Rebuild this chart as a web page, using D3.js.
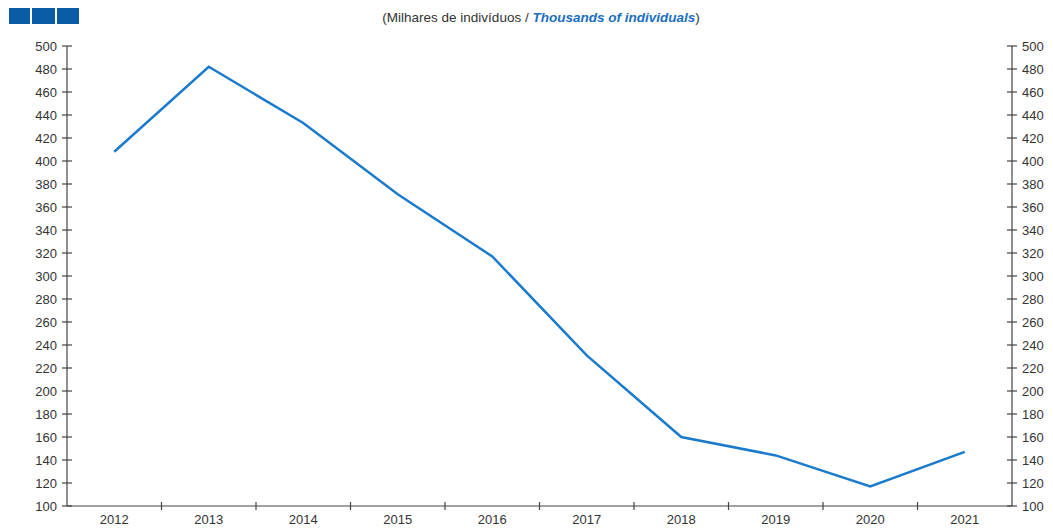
<!DOCTYPE html>
<html>
<head>
<meta charset="utf-8">
<script src="https://cdn.jsdelivr.net/npm/d3@7"></script>
<style>
  body { margin: 0; background: #fff; }
  text { font-family: "Liberation Sans", Arial, sans-serif; }
</style>
</head>
<body>
<svg id="svg"></svg>
<script>
var years = ["2012","2013","2014","2015","2016","2017","2018","2019","2020","2021"];
var values = [408, 482, 433, 371, 317, 231, 160, 144, 117, 147];
var yTicks = d3.range(100, 501, 20);

var width = 1053, height = 528;
var margin = {left: 67, right: 41, top: 46, bottom: 22};

var svg = d3.select("#svg")
  .attr("width", width)
  .attr("height", height);

// logo blocks top-left
var logo = [[9, 21], [32, 23], [57, 22]];
svg.selectAll(".logo")
  .data(logo)
  .enter().append("rect")
  .attr("x", d => d[0])
  .attr("y", 8)
  .attr("width", d => d[1])
  .attr("height", 16)
  .attr("fill", "#0b5ca6");

// title
var til = svg.append("text")
  .attr("x", 541)
  .attr("y", 22)
  .attr("text-anchor", "middle")
  .style("font-size", "13.5px")
  .attr("fill", "#333");
til.append("tspan").text("(Milhares de indivíduos / ");
til.append("tspan").text("Thousands of individuals")
  .attr("fill", "#1a6fbf")
  .style("font-style", "italic")
  .style("font-weight", 600);
til.append("tspan").text(")");

var x = d3.scaleBand()
  .domain(years)
  .range([margin.left, width - margin.right]);

var y = d3.scaleLinear()
  .domain([100, 500])
  .range([height - margin.bottom, margin.top]);

var axisColor = "#444";

function drawY(g, right) {
  g.append("line")
    .attr("x1", 0).attr("x2", 0)
    .attr("y1", y(100)).attr("y2", y(500))
    .attr("stroke", axisColor).attr("stroke-width", 1.2);
  g.selectAll(".tk").data(yTicks).enter().append("line")
    .attr("x1", -5).attr("x2", 5)
    .attr("y1", d => y(d)).attr("y2", d => y(d))
    .attr("stroke", axisColor).attr("stroke-width", 1.2);
  g.selectAll(".lb").data(yTicks).enter().append("text")
    .attr("x", right ? 10 : -10)
    .attr("y", d => y(d))
    .attr("dy", "0.35em")
    .attr("text-anchor", right ? "start" : "end")
    .style("font-size", "13px")
    .attr("fill", "#333")
    .text(d => d);
}

drawY(svg.append("g").attr("transform", `translate(${margin.left},0)`), false);
drawY(svg.append("g").attr("transform", `translate(${width - margin.right},0)`), true);

// x axis
var xg = svg.append("g");
xg.append("line")
  .attr("x1", margin.left).attr("x2", width - margin.right)
  .attr("y1", y(100)).attr("y2", y(100))
  .attr("stroke", axisColor).attr("stroke-width", 1.2);
xg.selectAll(".xt").data(years.slice(1)).enter().append("line")
  .attr("x1", d => x(d)).attr("x2", d => x(d))
  .attr("y1", y(100) - 4).attr("y2", y(100) + 4)
  .attr("stroke", axisColor).attr("stroke-width", 1.2);
xg.selectAll(".xl").data(years).enter().append("text")
  .attr("x", d => x(d) + x.bandwidth() / 2)
  .attr("y", y(100) + 18)
  .attr("text-anchor", "middle")
  .style("font-size", "13px")
  .attr("fill", "#333")
  .text(d => d);

// line
var line = d3.line()
  .x((d, i) => x(years[i]) + x.bandwidth() / 2)
  .y(d => y(d));

svg.append("path")
  .datum(values)
  .attr("d", line)
  .attr("fill", "none")
  .attr("stroke", "#1a7acc")
  .attr("stroke-width", 2.5);
</script>
</body>
</html>
